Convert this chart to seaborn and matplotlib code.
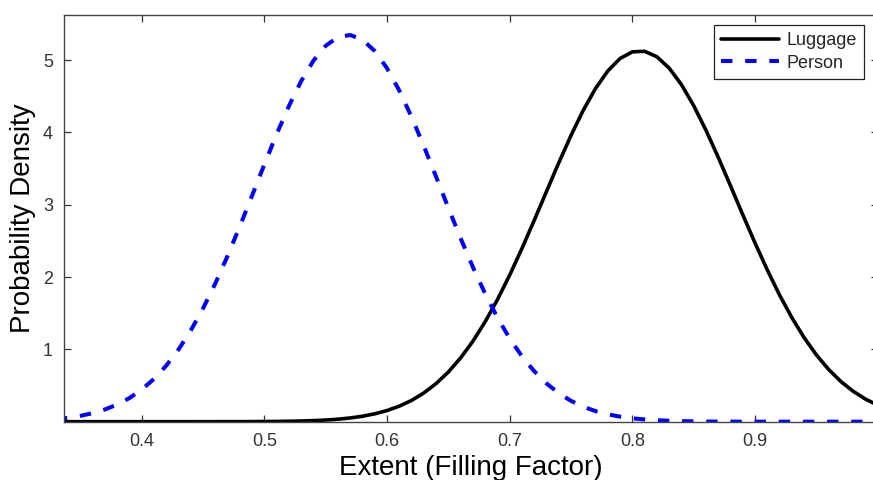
import numpy as np
import pandas as pd
import matplotlib
matplotlib.use("Agg")
import matplotlib.pyplot as plt
import seaborn as sns

# values (every 0.01 on the x axis)
extent = [0.33, 0.34, 0.35, 0.36, 0.37, 0.38, 0.39, 0.40, 0.41, 0.42, 0.43, 0.44,
          0.45, 0.46, 0.47, 0.48, 0.49, 0.50, 0.51, 0.52, 0.53, 0.54, 0.55, 0.56,
          0.57, 0.58, 0.59, 0.60, 0.61, 0.62, 0.63, 0.64, 0.65, 0.66, 0.67, 0.68,
          0.69, 0.70, 0.71, 0.72, 0.73, 0.74, 0.75, 0.76, 0.77, 0.78, 0.79, 0.80,
          0.81, 0.82, 0.83, 0.84, 0.85, 0.86, 0.87, 0.88, 0.89, 0.90, 0.91, 0.92,
          0.93, 0.94, 0.95, 0.96, 0.97, 0.98, 0.99, 1.00]

luggage = [0.0, 0.0, 0.0, 0.0, 0.0, 0.0, 0.0, 0.0, 0.0, 0.0, 0.0, 0.0,
           0.0001, 0.0003, 0.0005, 0.0008, 0.0013, 0.0022, 0.0037, 0.0060, 0.0095, 0.0148, 0.0228, 0.0346,
           0.0515, 0.0755, 0.109, 0.154, 0.215, 0.294, 0.397, 0.527, 0.687, 0.882, 1.113, 1.382,
           1.688, 2.028, 2.396, 2.785, 3.184, 3.580, 3.959, 4.307, 4.609, 4.851, 5.023, 5.115,
           5.123, 5.047, 4.891, 4.663, 4.372, 4.032, 3.658, 3.264, 2.864, 2.473, 2.100, 1.753,
           1.441, 1.164, 0.925, 0.723, 0.556, 0.421, 0.313, 0.229]

person = [0.0362, 0.0546, 0.0809, 0.118, 0.169, 0.237, 0.327, 0.444, 0.592, 0.776, 0.998, 1.262,
          1.567, 1.913, 2.294, 2.703, 3.129, 3.559, 3.977, 4.366, 4.711, 4.993, 5.199, 5.320,
          5.348, 5.282, 5.126, 4.888, 4.579, 4.215, 3.812, 3.387, 2.957, 2.536, 2.138, 1.770,
          1.440, 1.151, 0.904, 0.698, 0.529, 0.394, 0.288, 0.207, 0.146, 0.102, 0.0693, 0.0464,
          0.0306, 0.0198, 0.0126, 0.0079, 0.0048, 0.0029, 0.0017, 0.0010, 0.0006, 0.0003, 0.0002, 0.0001,
          0.0, 0.0, 0.0, 0.0, 0.0, 0.0, 0.0, 0.0]

x_ticks = [0.4, 0.5, 0.6, 0.7, 0.8, 0.9]
y_ticks = [1, 2, 3, 4, 5]

df = pd.DataFrame({"extent": extent, "Luggage": luggage, "Person": person})

sns.set_style("ticks")
plt.rcParams["font.family"] = ["Liberation Sans", "DejaVu Sans"]
plt.rcParams["lines.scale_dashes"] = False

fig = plt.figure(figsize=(8.73, 4.80), dpi=100)
ax = fig.add_axes([0.0733, 0.1215, 0.932, 0.8473])

sns.lineplot(data=df, x="extent", y="Luggage", ax=ax, color="black",
             linewidth=2.6, label="Luggage")
sns.lineplot(data=df, x="extent", y="Person", ax=ax, color="#0000ff",
             linewidth=2.9, linestyle=(0, (8.2, 9.2)), label="Person")

ax.set_xlim(0.3366, 1.0)
ax.set_ylim(0, 5.625)
ax.set_xticks(x_ticks)
ax.set_xticklabels([f"{t:.1f}" for t in x_ticks])
ax.set_yticks(y_ticks)
ax.set_yticklabels([str(t) for t in y_ticks])

ax.tick_params(direction="in", length=5, width=0.9, colors="#333333",
               labelsize=13, top=True, right=True, pad=8)
for sp in ax.spines.values():
    sp.set_color("#444444")
    sp.set_linewidth(1.0)

ax.set_xlabel("Extent (Filling Factor)", fontsize=20, color="black", labelpad=4)
ax.set_ylabel("Probability Density", fontsize=20, color="black", labelpad=5)

leg = ax.legend(loc="upper left", bbox_to_anchor=(0.8179, 0.9479),
                bbox_transform=fig.transFigure, borderaxespad=0,
                fontsize=13, handlelength=3.2, handletextpad=0.4,
                labelspacing=0.3, borderpad=0.4, fancybox=False,
                framealpha=1, edgecolor="#222222")
leg.get_frame().set_linewidth(0.9)

fig.savefig("out.png", dpi=100)
